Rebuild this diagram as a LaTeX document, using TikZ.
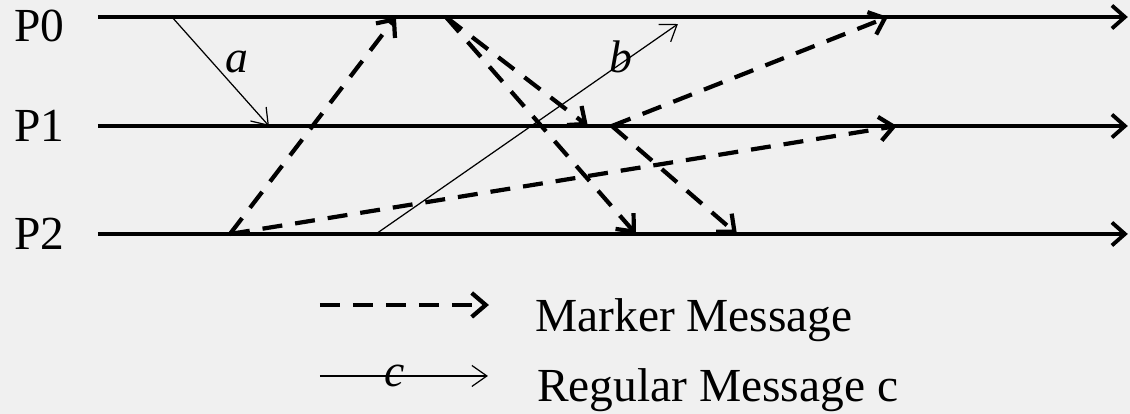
\documentclass[tikz,border=0pt]{standalone}
\usepackage{fontspec}
\setmainfont{Liberation Serif}
\usepackage{tikz}
\usetikzlibrary{arrows.meta}
\definecolor{paper}{RGB}{240,240,240}

\begin{document}
\begin{tikzpicture}[
  x=0.02cm, y=-0.02cm,
  procline/.style={line width=2.2pt, -{Straight Barb[length=2.6mm,width=4.6mm]}},
  marker/.style={line width=2.4pt, dash pattern=on 0.4cm off 0.26cm, -{Straight Barb[length=2.8mm,width=4.8mm]}},
  regular/.style={line width=0.7pt, -{Straight Barb[length=3mm,width=4.2mm]}},
  proc/.style={font=\fontsize{27}{31}\selectfont, anchor=base west, inner sep=0pt},
  msglabel/.style={font=\fontsize{26}{30}\selectfont\itshape, anchor=base, inner sep=0pt},
  legendtext/.style={font=\fontsize{27}{31}\selectfont, anchor=base west, inner sep=0pt}
]
  \fill[paper] (0,0) rectangle (1130,414);

  % processes
  \node[proc] (P0) at (14,41) {P0};
  \node[proc] (P1) at (14,142) {P1};
  \node[proc] (P2) at (14,250) {P2};
  \coordinate (p0s) at (98,17);  \coordinate (p0e) at (1128,17);
  \coordinate (p1s) at (98,126); \coordinate (p1e) at (1128,126);
  \coordinate (p2s) at (98,234); \coordinate (p2e) at (1128,234);
  \draw[procline] (p0s) -- (p0e);
  \draw[procline] (p1s) -- (p1e);
  \draw[procline] (p2s) -- (p2e);

  % regular messages
  \coordinate (a0) at (172,17);  \coordinate (a1) at (269,126);
  \coordinate (b0) at (376,234); \coordinate (b1) at (678,24);
  \draw[regular] (a0) -- (a1);
  \draw[regular] (b0) -- (b1);
  \node[msglabel] (la) at (237,73) {a};
  \node[msglabel] (lb) at (621,73) {b};

  % marker messages
  \coordinate (m20) at (230,234);
  \coordinate (m00) at (446,17);
  \coordinate (m10) at (612,126);
  \coordinate (m1) at (396,17);
  \coordinate (m2) at (897,126);
  \coordinate (m3) at (588,126);
  \coordinate (m4) at (636,234);
  \coordinate (m5) at (888,17);
  \coordinate (m6) at (737,234);
  \draw[marker] (m20) -- (m1);
  \draw[marker] (m20) -- (m2);
  \draw[marker] (m00) -- (m3);
  \draw[marker] (m00) -- (m4);
  \draw[marker] (m10) -- (m5);
  \draw[marker] (m10) -- (m6);

  % legend
  \coordinate (lm0) at (320,305); \coordinate (lm1) at (489,305);
  \coordinate (lr0) at (320,376); \coordinate (lr1) at (488,376);
  \draw[marker] (lm0) -- (lm1);
  \draw[regular] (lr0) -- (lr1);
  \node[msglabel] (lc) at (395,387) {c};
  \node[legendtext] (tm) at (535,332) {Marker Message};
  \node[legendtext] (tr) at (537,402) {Regular Message c};
\end{tikzpicture}
\end{document}
